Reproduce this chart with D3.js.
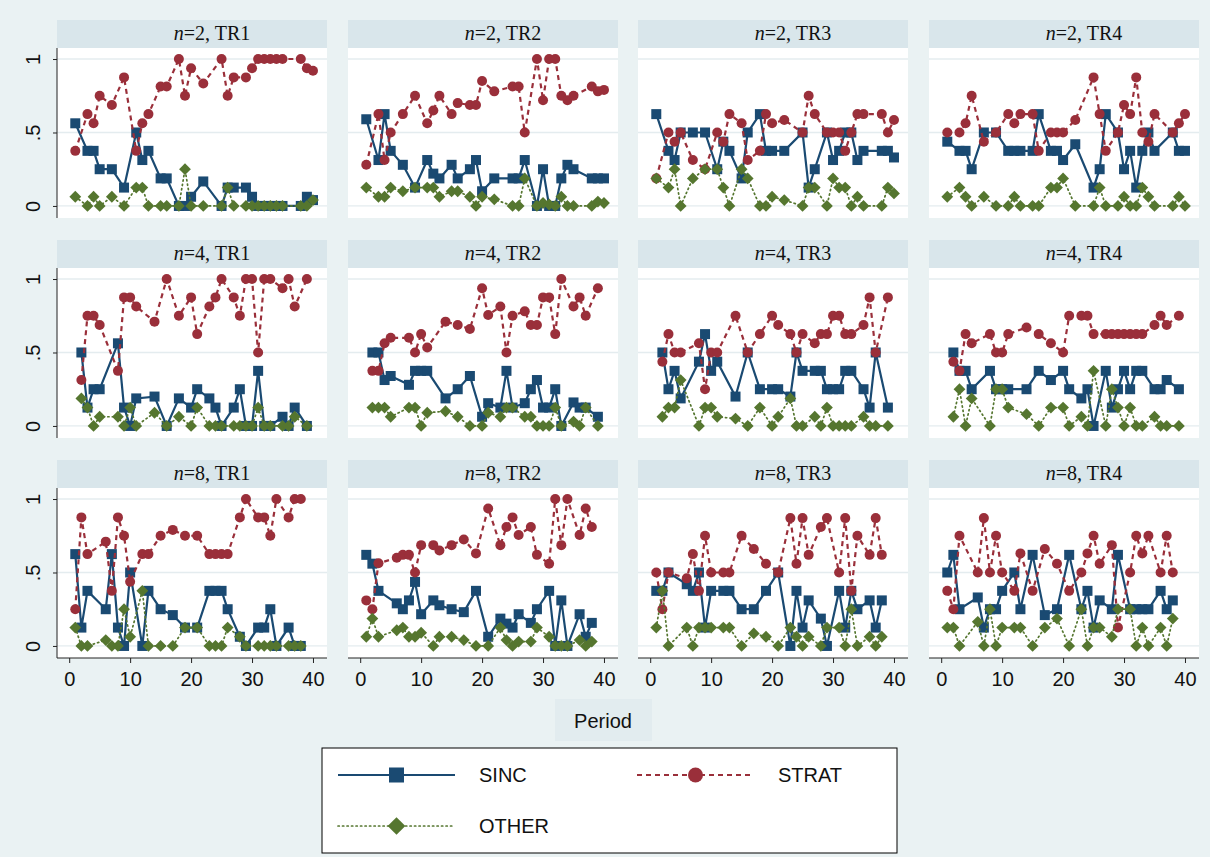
<!DOCTYPE html>
<html><head><meta charset="utf-8">
<script src="https://cdn.jsdelivr.net/npm/d3@7"></script>
<style>body{margin:0;background:#eaf2f3;} svg{display:block}</style>
</head><body><svg id="c" width="1210" height="857"></svg>
<script>
// ---- data ----
const periodsN2 = [1,3,4,5,7,9,11,12,13,15,16,18,19,20,22,25,26,27,29,30,31,32,33,34,35,38,39,40];
const periodsN4 = [2,3,4,5,8,9,10,11,14,16,18,20,21,23,24,25,27,28,29,30,31,32,33,35,36,37,39];
const periodsN8 = [1,2,3,6,7,8,9,10,12,13,15,17,19,21,23,24,25,26,28,29,31,32,33,34,36,37,38];

const sincN2TR1  = [.5625,.375,.375,.25,.25,.125,.5,.3125,.375,.1875,.1875,0,0,.0625,.1667,0,.125,.125,.125,.0625,0,0,0,0,0,0,.0625,.04];
const stratN2TR1 = [.375,.625,.5625,.75,.6875,.875,.375,.5625,.625,.8125,.8125,1,.75,.9375,.8333,1,.75,.875,.875,.9375,1,1,1,1,1,1,.9375,.92];
const otherN2TR1 = [.0625,0,.0625,0,.0625,0,.125,.125,0,0,0,0,.25,0,0,0,.125,0,0,0,0,0,0,0,0,0,0,.04];

const sincN2TR2  = [.59,.3125,.625,.375,.28,.125,.3125,.22,.1875,.28,.1875,.25,.3125,.1,.1875,.1875,.1875,.3125,0,.25,0,0,.1875,.28,.25,.1875,.1875,.1875];
const stratN2TR2 = [.28,.625,.3125,.5,.625,.75,.5625,.65,.75,.625,.7,.6875,.6875,.85,.78,.8125,.8125,.5,1,.72,1,1,.75,.72,.75,.8125,.78,.79];
const otherN2TR2 = [.125,.0625,.0625,.125,.1,.125,.125,.125,.0625,.1,.1,.0625,0,.0625,.045,0,0,.1875,0,.02,.01,0,.0625,0,0,0,.03,.02];

const sincN2TR3  = [.625,.375,.3125,.5,.5,.5,.25,.4375,.375,.1875,.5,.625,.375,.375,.375,.5,.125,.25,.5,.3125,.375,.5,.5,.3125,.375,.375,.375,.33];
const stratN2TR3 = [.1875,.5,.4375,.5,.3125,.25,.5,.4375,.625,.5625,.3125,.375,.625,.5625,.585,.5,.75,.625,.5,.5,.5,.375,.5,.625,.625,.625,.5,.585];
const otherN2TR3 = [.1875,.125,.25,0,.1875,.25,.25,.125,0,.25,.1875,0,0,.0625,.04,0,.125,.125,0,.1875,.125,.125,0,.0625,0,0,.125,.085];

const sincN2TR4  = [.4375,.375,.375,.25,.5,.5,.375,.375,.375,.375,.625,.375,.375,.3125,.42,.125,.25,.625,.5,.25,.375,.125,.375,.5,.375,.5,.375,.375];
const stratN2TR4 = [.5,.5,.5625,.75,.4375,.5,.625,.5625,.625,.625,.375,.5,.5,.5,.585,.875,.625,.375,.5,.6875,.625,.875,.5,.4375,.625,.5,.5625,.625];
const otherN2TR4 = [.0625,.125,.0625,0,.0625,0,0,.0625,0,0,0,.125,.125,.1875,0,0,.125,0,0,.0625,0,0,.125,.0625,0,0,.0625,0];

const sincN4TR1  = [.5,.125,.25,.25,.5625,.125,0,.1875,.2,0,.1875,.125,.25,.1875,.125,0,.125,.25,0,0,.375,0,0,.0625,0,.125,0];
const stratN4TR1 = [.3125,.75,.75,.6875,.375,.875,.875,.8125,.71,1,.75,.875,.625,.8125,.875,1,.875,.75,1,1,.5,1,1,.9375,1,.8125,1];
const otherN4TR1 = [.1875,.125,0,.0625,.0625,0,.125,0,.09,0,.0625,0,.125,0,0,0,0,0,0,0,.125,0,0,0,0,.0625,0];

const sincN4TR2  = [.5,.5,.3125,.34,.28,.375,.375,.375,.1875,.25,.34,.0625,.155,.125,.375,.125,.155,.25,.3125,.125,.125,.25,0,.16,.125,.125,.0625];
const stratN4TR2 = [.375,.375,.5625,.6,.6,.5,.625,.534,.71,.6875,.66,.9375,.755,.8125,.5,.75,.78,.6875,.6875,.875,.875,.625,1,.8125,.875,.75,.9375];
const otherN4TR2 = [.125,.125,.125,.0625,.125,.125,0,.09,.1,.0625,0,0,.09,.0625,.125,.125,.0625,.0625,0,0,0,.125,0,.03,0,.125,0];

const sincN4TR3  = [.5,.25,.375,.1875,.4375,.625,.375,.4375,.2,.5,.25,.25,.25,.2,.5,.375,.375,.375,.25,.25,.25,.375,.375,.25,.125,.5,.125];
const stratN4TR3 = [.4375,.625,.5,.5,.5625,.25,.5,.5,.75,.5,.625,.75,.6875,.625,.5,.625,.5625,.625,.625,.75,.75,.625,.625,.6875,.875,.5,.875];
const otherN4TR3 = [.0625,.125,.125,.3125,0,.125,.125,.0625,.05,0,.125,0,.0625,.1875,0,0,.0625,0,.125,0,0,0,0,.0625,0,0,0];

const sincN4TR4  = [.5,.375,.375,.25,.375,.25,.25,.25,.25,.375,.3125,.375,.25,.1875,.25,0,.375,.125,.25,.375,.25,.375,.375,.25,.25,.3125,.25];
const stratN4TR4 = [.4375,.375,.625,.5625,.625,.5,.5,.625,.67,.625,.5625,.5,.75,.75,.75,.625,.625,.625,.625,.625,.625,.625,.625,.6875,.75,.6875,.75];
const otherN4TR4 = [.0625,.25,0,.1875,0,.25,.25,.125,.08,0,.125,.125,0,.0625,0,.375,0,.25,.125,0,.125,0,0,.0625,0,0,0];

const sincN8TR1  = [.625,.125,.375,.25,.625,.125,0,.5,0,.375,.25,.21,.125,.125,.375,.375,.375,.25,.0625,0,.125,.125,.25,0,.125,0,0];
const stratN8TR1 = [.25,.875,.625,.71,.375,.875,.75,.4375,.625,.625,.75,.79,.75,.75,.625,.625,.625,.625,.875,1,.875,.875,.75,1,.875,1,1];
const otherN8TR1 = [.125,0,0,.04,0,0,.25,.0625,.375,0,0,0,.125,.125,0,0,0,.125,.0625,0,0,0,0,0,0,0,0];

const sincN8TR2  = [.62,.56,.375,.29,.25,.31,.436,.216,.31,.277,.25,.23,.375,.0625,.186,.152,.125,.216,.157,.25,.375,0,.31,0,.216,.0625,.157];
const stratN8TR2 = [.31,.25,.5625,.6,.62,.62,.5,.686,.686,.65,.686,.725,.63,.936,.686,.81,.875,.755,.81,.62,.56,1,.686,1,.755,.936,.81];
const otherN8TR2 = [.0625,.186,.0625,.107,.125,.0625,.0625,.09,0,.0625,.0625,.04,0,0,.125,.04,0,.03,.03,.125,.0625,0,0,0,.04,0,.03];

const sincN8TR3  = [.375,.375,.5,.42,.375,.5,.125,.375,.375,.375,.25,.25,.375,.5,0,.375,.125,.31,.186,0,.375,.125,.375,.25,.31,.125,.31];
const stratN8TR3 = [.5,.25,.5,.46,.625,.375,.75,.5,.5,.5,.75,.66,.56,.5,.87,.56,.87,.62,.81,.87,.5,.87,.375,.75,.62,.87,.62];
const otherN8TR3 = [.125,.375,0,.125,0,.125,.125,.125,.125,.125,0,.085,.0625,0,.125,.0625,0,.0625,0,.125,.125,0,.25,0,.0625,0,.0625];

const sincN8TR4  = [.5,.62,.25,.33,.125,.25,.25,.375,.5,.25,.62,.21,.25,.62,.25,.375,.125,.31,.25,.62,.25,.25,.25,.25,.375,.25,.31];
const stratN8TR4 = [.375,.25,.75,.5,.87,.5,.75,.5,.375,.63,.375,.66,.56,.375,.5,.63,.75,.56,.686,.125,.5,.75,.63,.75,.5,.75,.5];
const otherN8TR4 = [.125,.125,0,.164,0,.25,0,.125,.125,.125,0,.125,.186,0,.25,0,.125,.125,.0625,.25,.25,0,.125,0,.125,0,.186];

const groupSizes = ["2","4","8"];
const treatments = ["TR1","TR2","TR3","TR4"];
const yTicks = [0, 0.5, 1];
const yTickLabels = ["0", ".5", "1"];
const xTicks = [0, 10, 20, 30, 40];
const seriesNames = ["SINC", "STRAT", "OTHER"];
const xTitle = "Period";

// ---- table built from arrays ----
const periodsByN = [periodsN2, periodsN4, periodsN8];
const seriesByPanel = [
  [sincN2TR1, stratN2TR1, otherN2TR1], [sincN2TR2, stratN2TR2, otherN2TR2], [sincN2TR3, stratN2TR3, otherN2TR3], [sincN2TR4, stratN2TR4, otherN2TR4],
  [sincN4TR1, stratN4TR1, otherN4TR1], [sincN4TR2, stratN4TR2, otherN4TR2], [sincN4TR3, stratN4TR3, otherN4TR3], [sincN4TR4, stratN4TR4, otherN4TR4],
  [sincN8TR1, stratN8TR1, otherN8TR1], [sincN8TR2, stratN8TR2, otherN8TR2], [sincN8TR3, stratN8TR3, otherN8TR3], [sincN8TR4, stratN8TR4, otherN8TR4]
];

// ---- layout / style ----
const W = 1210, H = 857;
const colLeft = [57, 348, 638, 929], pw = 270;
const rowTop = [20, 240, 460], stripH = 28, plotH = 170;
const colors = ["#1a4a72", "#9a2f3a", "#55762f"];
const dashes = [null, "5,4", "1.3,3.2"];
const widths = [2.2, 2.2, 1.7];
const sansFont = "'Liberation Sans', Arial, Helvetica, sans-serif";
const serifFont = "'Liberation Serif', 'Times New Roman', serif";

const svg = d3.select("#c");
svg.append("rect").attr("width", W).attr("height", H).attr("fill", "#eaf2f3");

function drawMarker(sel, k, size) {
  const h = size / 2;
  if (k === 0) {
    sel.append("rect").attr("x", -h).attr("y", -h).attr("width", size).attr("height", size).attr("fill", colors[0]);
  } else if (k === 1) {
    sel.append("circle").attr("r", h * 1.0).attr("fill", colors[1]);
  } else {
    const d = h * 1.18;
    sel.append("path").attr("d", `M0,${-d}L${d},0L0,${d}L${-d},0Z`).attr("fill", colors[2]);
  }
}

seriesByPanel.forEach((ser, i) => {
  const r = Math.floor(i / 4), c = i % 4;
  const x0 = colLeft[c], top = rowTop[r];
  const periods = periodsByN[r];
  const x = d3.scaleLinear().domain([-2, 42.3]).range([x0, x0 + pw]);
  const y = d3.scaleLinear().domain([-0.082, 1.075]).range([top + stripH + plotH, top + stripH]);
  const g = svg.append("g");

  // strip
  g.append("rect").attr("x", x0).attr("y", top).attr("width", pw).attr("height", stripH).attr("fill", "#d9e6eb");
  const st = g.append("text").attr("x", x0 + 155).attr("y", top + 20).attr("text-anchor", "middle")
    .attr("font-family", serifFont).attr("font-size", 20).attr("fill", "#111");
  st.append("tspan").attr("font-style", "italic").text("n");
  st.append("tspan").text("=" + groupSizes[r] + ", " + treatments[c]);

  // plot region
  g.append("rect").attr("x", x0).attr("y", top + stripH).attr("width", pw).attr("height", plotH).attr("fill", "#ffffff");
  g.selectAll("line.grid").data(yTicks).join("line").attr("class", "grid")
    .attr("x1", x0).attr("x2", x0 + pw).attr("y1", d => y(d)).attr("y2", d => y(d))
    .attr("stroke", "#e4ecef").attr("stroke-width", 1.3);

  // series
  ser.forEach((vals, k) => {
    const pts = periods.map((t, j) => ({ t, v: vals[j] }));
    const line = d3.line().x(d => x(d.t)).y(d => y(d.v));
    g.append("path").datum(pts).attr("d", line).attr("fill", "none")
      .attr("stroke", colors[k]).attr("stroke-width", widths[k])
      .attr("stroke-dasharray", dashes[k]).attr("stroke-linecap", k === 2 ? "round" : "butt");
    g.selectAll(null).data(pts).join("g")
      .attr("transform", d => `translate(${x(d.t)},${y(d.v)})`)
      .each(function () { drawMarker(d3.select(this), k, 10); });
  });

  // y axis on first column
  if (c === 0) {
    const ax = g.append("g").attr("transform", `translate(${x0},0)`)
      .call(d3.axisLeft(y).tickValues(yTicks).tickFormat((d, j) => yTickLabels[j]).tickSize(4).tickSizeOuter(0));
    ax.select(".domain").attr("d", `M0,${top + stripH}V${top + stripH + plotH}`).attr("stroke", "#222");
    ax.selectAll(".tick line").attr("stroke", "#222");
    ax.selectAll(".tick text").attr("transform", "rotate(-90)").attr("x", 0).attr("y", -17).attr("dy", 0)
      .attr("text-anchor", "middle").attr("font-family", sansFont).attr("font-size", 20).attr("fill", "#111");
  }
  // x axis on bottom row
  if (r === 2) {
    const ax = g.append("g").attr("transform", `translate(0,${top + stripH + plotH})`)
      .call(d3.axisBottom(x).tickValues(xTicks).tickSize(5).tickSizeOuter(0));
    ax.select(".domain").attr("d", `M${x0},0H${x0 + pw}`).attr("stroke", "#222");
    ax.selectAll(".tick line").attr("stroke", "#222");
    ax.selectAll(".tick text").attr("y", 10).attr("dy", "0.9em").attr("font-family", sansFont).attr("font-size", 20).attr("fill", "#111");
  }
});

// x title
svg.append("rect").attr("x", 555).attr("y", 699).attr("width", 97).attr("height", 42).attr("fill", "#e2ecef");
svg.append("text").attr("x", 603).attr("y", 728).attr("text-anchor", "middle")
  .attr("font-family", sansFont).attr("font-size", 20).attr("fill", "#111").text(xTitle);

// legend
const lg = svg.append("g");
lg.append("rect").attr("x", 322).attr("y", 748).attr("width", 575).attr("height", 105)
  .attr("fill", "#ffffff").attr("stroke", "#000").attr("stroke-width", 1);
const legPos = [{ x: 338, y: 775 }, { x: 637, y: 775 }, { x: 338, y: 826 }];
seriesNames.forEach((name, k) => {
  const p = legPos[k];
  lg.append("line").attr("x1", p.x).attr("x2", p.x + 117).attr("y1", p.y).attr("y2", p.y)
    .attr("stroke", colors[k]).attr("stroke-width", widths[k]).attr("stroke-dasharray", dashes[k])
    .attr("stroke-linecap", k === 2 ? "round" : "butt");
  drawMarker(lg.append("g").attr("transform", `translate(${p.x + 58.5},${p.y})`), k, 15);
  lg.append("text").attr("x", p.x + 141).attr("y", p.y + 7).attr("font-family", sansFont)
    .attr("font-size", 20).attr("fill", "#111").text(name);
});
</script></body></html>
